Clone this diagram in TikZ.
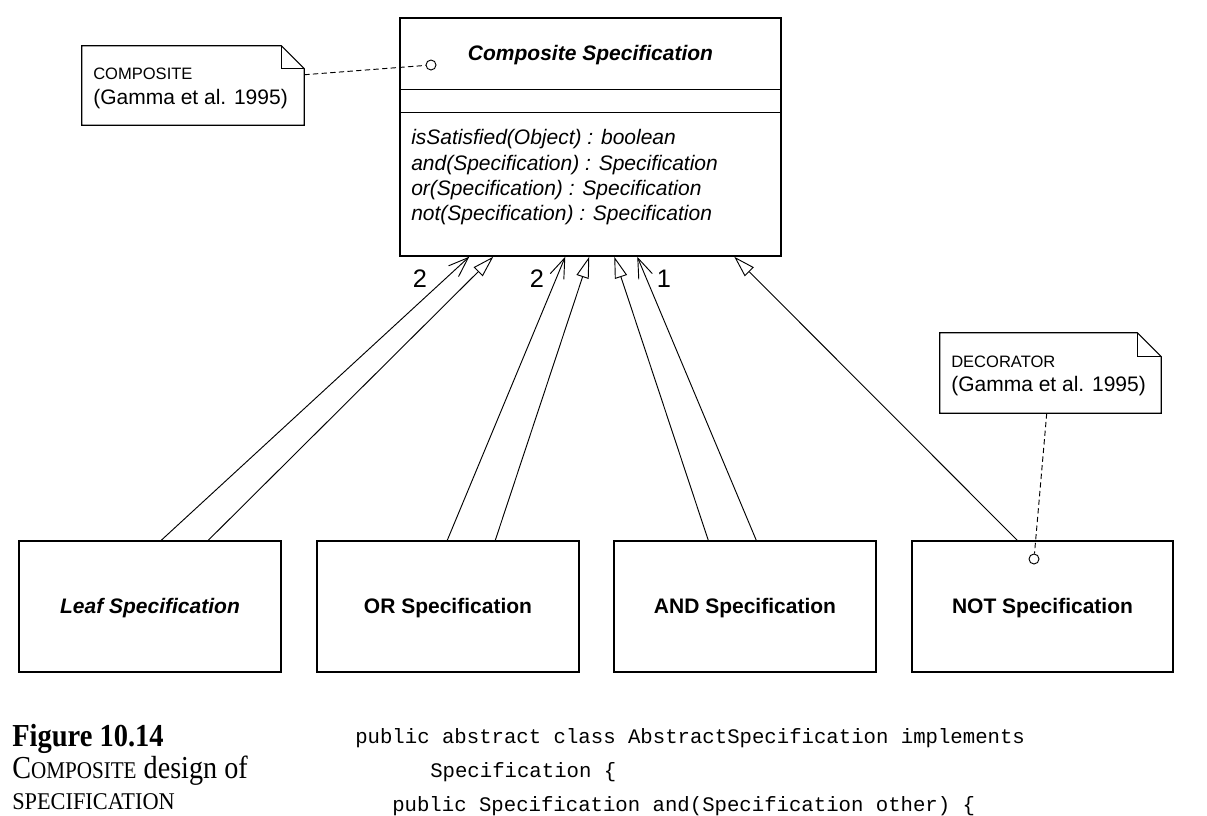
\documentclass[tikz,border=0pt]{standalone}
\usepackage{fontspec}
\setmainfont{Liberation Sans}
\newfontfamily\capfont{Liberation Serif}
\setmonofont{Liberation Mono}
\usetikzlibrary{arrows.meta,calc,fit}
\begin{document}
\begin{tikzpicture}[x=0.75pt,y=-0.75pt,
  box/.style={draw, line width=1.1pt, inner sep=0pt, rectangle},
  notebox/.style={inner sep=0pt, rectangle},
  noteline/.style={draw, line width=0.8pt, line join=miter},
  conn/.style={line width=0.7pt},
  gen/.style={conn, -{Triangle[open, length=16pt, width=9.5pt]}},
  assoc/.style={conn, -{Straight Barb[length=15pt, width=11pt]}},
  anchorline/.style={dash pattern=on 4pt off 2.5pt, line width=0.7pt},
  lollipop/.style={circle, draw, fill=white, inner sep=0pt, minimum size=7.5pt, line width=0.7pt},
  f21/.style={font=\fontsize{15.75}{18}\selectfont},
  f21bi/.style={font=\fontsize{15.75}{18}\selectfont\bfseries\itshape},
  f21b/.style={font=\fontsize{15.75}{18}\selectfont\bfseries},
  f21i/.style={font=\fontsize{15.75}{18}\selectfont\itshape},
  f17/.style={font=\fontsize{12.4}{15}\selectfont},
  mult/.style={font=\fontsize{19}{22}\selectfont},
  code/.style={font=\fontsize{15.5}{18}\ttfamily, anchor=base west, inner sep=0pt},
  captext/.style={anchor=base west, inner sep=0pt},
  txt/.style={anchor=base west, inner sep=0pt}
]
\useasboundingbox (0,0) rectangle (1207,815);

% main class
\node[box, fit={(400,18) (781,256)}] (main) {};
\draw[line width=1pt] ($(main.north west)+(0,72)$) -- ($(main.north east)+(0,72)$);
\draw[line width=1pt] ($(main.north west)+(0,95)$) -- ($(main.north east)+(0,95)$);
\node[f21bi] (title) at ($(main.north)+(0,38)$) {Composite Specification};
\node[f21i, txt] (op1) at (411,144) {isSatisfied(Object) : boolean};
\node[f21i, txt] (op2) at (411,170) {and(Specification) : Specification};
\node[f21i, txt] (op3) at (411,195) {or(Specification) : Specification};
\node[f21i, txt] (op4) at (411,220) {not(Specification) : Specification};

% subclasses
\node[box, fit={(19,541) (281,672)}] (leaf) {};
\node[f21bi] (leafl) at ($(leaf.center)+(0,2)$) {Leaf Specification};
\node[box, fit={(317,541) (579,672)}] (orb) {};
\node[f21b] (orl) at ($(orb.center)+(0,2)$) {OR Specification};
\node[box, fit={(614,541) (876,672)}] (andb) {};
\node[f21b] (andl) at ($(andb.center)+(0,2)$) {AND Specification};
\node[box, fit={(912,541) (1173,672)}] (notb) {};
\node[f21b] (notl) at ($(notb.center)+(0,2)$) {NOT Specification};

% connection points
\path (leaf.north west) ++(143,0) coordinate (la) ++(47,0) coordinate (lg);
\path (orb.north west) ++(131,0) coordinate (oa) ++(48,0) coordinate (og);
\path (andb.north west) ++(95,0) coordinate (ag) ++(48,0) coordinate (aa);
\path (notb.north west) ++(106,0) coordinate (ng);
\path (main.south west) ++(70,0) coordinate (tla) ++(24,0) coordinate (tlg)
      ++(72,0) coordinate (toa) ++(24,0) coordinate (tog)
      ++(25,0) coordinate (tag) ++(23,0) coordinate (taa)
      ++(97,0) coordinate (tng);

\draw[assoc] (la) -- (tla);
\draw[gen] (lg) -- (tlg);
\draw[assoc] (oa) -- (toa);
\draw[gen] (og) -- (tog);
\draw[gen] (ag) -- (tag);
\draw[assoc] (aa) -- (taa);
\draw[gen] (ng) -- (tng);

\node[mult] (m1) at (420,279) {2};
\node[mult] (m2) at (537,279) {2};
\node[mult] (m3) at (664,279) {1};

% composite note
\node[notebox, fit={(82,46) (304,125)}] (cnote) {};
\draw[noteline] (cnote.south west) -- (cnote.north west) -- ($(cnote.north east)+(-23,0)$)
  -- ($(cnote.north east)+(0,23)$) -- (cnote.south east) -- cycle;
\draw[noteline] ($(cnote.north east)+(-23,0)$) -- ($(cnote.north east)+(-23,23)$) -- ($(cnote.north east)+(0,23)$);
\node[f17, txt] (cn1) at (93,79) {COMPOSITE};
\node[f21, txt] (cn2) at (93,104) {(Gamma et al. 1995)};
\node[lollipop] (c1) at (431,65) {};
\coordinate (cnr) at ($(cnote.north east)+(0,29)$);
\draw[anchorline] (cnr) -- (c1);

% decorator note
\node[notebox, fit={(940,333) (1161,413)}] (dnote) {};
\draw[noteline] (dnote.south west) -- (dnote.north west) -- ($(dnote.north east)+(-24,0)$)
  -- ($(dnote.north east)+(0,24)$) -- (dnote.south east) -- cycle;
\draw[noteline] ($(dnote.north east)+(-24,0)$) -- ($(dnote.north east)+(-24,24)$) -- ($(dnote.north east)+(0,24)$);
\node[f17, txt] (dn1) at (951,367) {DECORATOR};
\node[f21, txt] (dn2) at (951,391) {(Gamma et al. 1995)};
\node[lollipop] (c2) at (1034,559) {};
\coordinate (dnb) at ($(dnote.south west)+(107,0)$);
\draw[anchorline] (dnb) -- (c2);

% caption
\node[captext, font=\capfont\bfseries\fontsize{24}{28}\selectfont] (figno) at (12,746) {\scalebox{0.89}[1]{Figure 10.14}};
\node[captext, font=\capfont\fontsize{24}{28}\selectfont] (cap1) at (12,778) {\scalebox{0.88}[1]{C{\fontsize{18}{20}\selectfont OMPOSITE} design of}};
\node[captext, font=\capfont\fontsize{18}{20}\selectfont] (cap2) at (12,809) {\scalebox{0.93}[1]{SPECIFICATION}};

% code
\node[code] (code1) at (355,743) {public abstract class AbstractSpecification implements};
\node[code] (code2) at (430,777) {Specification \{};
\node[code] (code3) at (392,811) {public Specification and(Specification other) \{};
\end{tikzpicture}
\end{document}
